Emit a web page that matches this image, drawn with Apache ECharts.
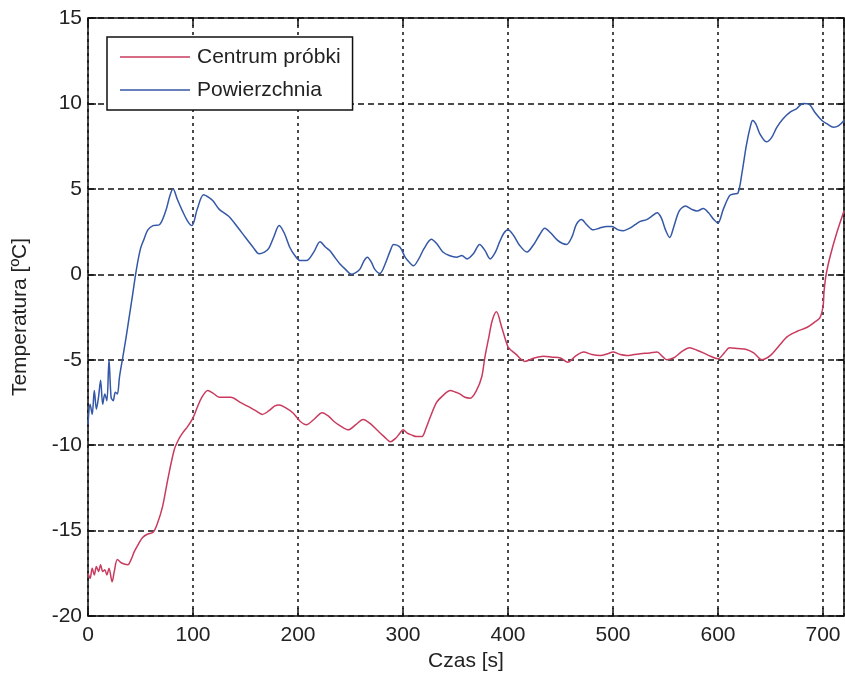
<!DOCTYPE html>
<html>
<head>
<meta charset="utf-8">
<script src="https://cdn.jsdelivr.net/npm/echarts@6/dist/echarts.min.js"></script>
<style>
  body { margin: 0; background: #fff; }
  #chart { width: 845px; height: 684px; }
</style>
</head>
<body>
<div id="chart"></div>
<script>
// czas [s] i temperatura [ºC]
var seriesNames = ['Centrum próbki', 'Powierzchnia'];

var timeRed = [0, 2, 4, 6, 8, 10, 12, 14, 16, 18, 20, 23, 25, 28, 32, 38, 41, 44, 48, 52, 57, 62, 66, 71, 76, 82, 86, 90, 95, 100,
  104, 108, 114, 119, 125, 136, 145, 153, 160, 166, 172, 178, 182, 188, 195, 202, 208, 215, 223, 229, 234, 241, 248, 255, 262,
  268, 275, 282, 288, 293, 297, 300, 304, 308, 313, 318, 322, 326, 332, 338, 345, 350, 354, 359, 364, 370, 375, 378, 382, 385,
  389, 394, 400, 404, 408, 412, 416, 425, 434, 442, 450, 457, 464, 472, 480, 488, 495, 500, 507, 513, 520, 526, 535, 542, 547,
  551, 555, 559, 566, 573, 580, 586, 593, 600, 606, 611, 619, 627, 634, 642, 650, 658, 666, 675, 685, 692, 697, 700, 701, 703,
  707, 713, 720];
var tempRed = [-17.5, -17.8, -17.2, -17.6, -17.1, -17.4, -17.0, -17.4, -17.3, -17.6, -17.2, -18.0, -17.4, -16.7, -16.9, -17.0,
  -16.7, -16.25, -15.8, -15.4, -15.2, -15.1, -14.6, -13.6, -12.0, -10.3, -9.7, -9.3, -8.9, -8.4,
  -7.8, -7.25, -6.8, -6.95, -7.2, -7.2, -7.5, -7.75, -8.0, -8.2, -8.0, -7.7, -7.65, -7.8, -8.1, -8.6, -8.8, -8.5, -8.1, -8.3,
  -8.6, -8.9, -9.1, -8.8, -8.5, -8.7, -9.1, -9.5, -9.8, -9.6, -9.3, -9.1, -9.3, -9.4, -9.5, -9.5, -9.0, -8.35, -7.5, -7.1,
  -6.8, -6.9, -7.0, -7.2, -7.25, -6.8, -6.0, -4.85, -3.6, -2.7, -2.2, -3.1, -4.25, -4.5, -4.7, -4.95, -5.1, -4.9, -4.8, -4.85,
  -4.9, -5.15, -4.8, -4.55, -4.7, -4.75, -4.65, -4.55, -4.7, -4.75, -4.7, -4.65, -4.6, -4.55, -4.8, -5.0, -4.95, -4.85, -4.5,
  -4.3, -4.45, -4.6, -4.8, -4.95, -4.6, -4.3, -4.35, -4.4, -4.6, -5.0, -4.75, -4.2, -3.65, -3.35, -3.1, -2.8, -2.55, -1.9,
  -1.0, 0.0, 1.1, 2.4, 3.7];

var timeBlue = [0, 2, 4, 6, 8, 10, 12, 14, 16, 18, 20, 22, 24, 26, 28, 30, 33, 36, 39, 42, 46, 50, 53, 57, 62, 68, 74, 78, 81,
  85, 90, 95, 99, 104, 110, 115, 119, 125, 134, 142, 150, 157, 163, 168, 172, 177, 182, 187, 192, 197, 202, 208, 215, 221, 226,
  230, 235, 240, 245, 251, 255, 259, 263, 266, 270, 273, 278, 283, 288, 291, 297, 302, 306, 310, 315, 320, 327, 332, 338, 344,
  351, 356, 361, 367, 373, 378, 383, 388, 392, 396, 400, 405, 411, 418, 424, 430, 435, 441, 447, 452, 456, 461, 465, 470, 475,
  481, 487, 494, 499, 505, 510, 516, 521, 526, 532, 537, 542, 546, 550, 554, 558, 563, 569, 575, 580, 586, 591, 596, 600, 605,
  611, 615, 619, 623, 627, 631, 633, 636, 640, 646, 651, 656, 662, 669, 675, 681, 687, 692, 699, 704, 710, 715, 720];
var tempBlue = [-8.8, -7.6, -8.2, -6.8, -7.9, -7.2, -6.2, -7.6, -7.0, -7.4, -5.0, -7.2, -7.4, -6.9, -7.0, -6.0, -4.9, -3.8,
  -2.6, -1.4, 0.25, 1.5, 2.0, 2.6, 2.85, 2.9, 3.7, 4.6, 5.0, 4.4, 3.7, 3.1, 2.85, 3.8, 4.65, 4.5, 4.3, 3.8, 3.4, 2.8, 2.15,
  1.6, 1.2, 1.3, 1.5, 2.2, 2.85, 2.4, 1.6, 1.1, 0.8, 0.8, 1.3, 1.9, 1.6, 1.4, 1.0, 0.6, 0.3, 0.0, 0.1, 0.3, 0.8, 1.0, 0.7,
  0.3, 0.05, 0.6, 1.4, 1.75, 1.6, 1.0, 0.7, 0.5, 0.9, 1.5, 2.05, 1.8, 1.3, 1.1, 1.0, 1.1, 0.9, 1.2, 1.75, 1.4, 0.9, 1.3,
  1.9, 2.4, 2.6, 2.3, 1.7, 1.3, 1.7, 2.3, 2.7, 2.4, 2.0, 1.8, 1.75, 2.2, 2.9, 3.2, 2.9, 2.6, 2.7, 2.8, 2.8, 2.6, 2.55, 2.7,
  2.9, 3.1, 3.2, 3.4, 3.6, 3.3, 2.6, 2.15, 2.8, 3.7, 4.0, 3.8, 3.7, 3.85, 3.6, 3.2, 3.0, 3.8, 4.6, 4.7, 4.75, 6.0, 7.55,
  8.7, 9.0, 8.8, 8.2, 7.75, 8.0, 8.6, 9.1, 9.5, 9.7, 10.0, 9.95, 9.5, 9.0, 8.8, 8.6, 8.7, 9.0];

function pairs(xs, ys) {
    return xs.map(function (x, i) { return [x, ys[i]]; });
}

var font = '"Liberation Sans", Arial, sans-serif';
var chart = echarts.init(document.getElementById('chart'));

chart.setOption({
    backgroundColor: '#fff',
    animation: false,
    grid: { left: 88, right: 1, top: 18, bottom: 68 },
    legend: {
        orient: 'vertical',
        left: 107,
        top: 37,
        padding: [9, 12, 9, 13],
        itemGap: 11,
        icon: 'rect',
        itemWidth: 70,
        itemHeight: 1.5,
        backgroundColor: '#fff',
        borderColor: '#111',
        borderWidth: 1.5,
        borderRadius: 0,
        textStyle: { fontFamily: font, fontSize: 21, color: '#222', lineHeight: 22, padding: [0, 0, 0, 2] },
        data: seriesNames
    },
    xAxis: [
        {
            type: 'value',
            min: 0,
            max: 720,
            interval: 100,
            name: 'Czas [s]',
            nameLocation: 'middle',
            nameGap: 35,
            nameTextStyle: { fontFamily: font, fontSize: 21, color: '#222' },
            axisLine: { onZero: false, lineStyle: { color: '#111', width: 1.5 } },
            axisTick: { inside: true, length: 8, lineStyle: { color: '#111', width: 1.5 } },
            axisLabel: { fontFamily: font, fontSize: 21, color: '#222', margin: 9, showMaxLabel: false },
            splitLine: { show: true, lineStyle: { color: '#111', width: 1.5, type: [3, 4] } }
        },
        {
            type: 'value',
            position: 'top',
            min: 0,
            max: 720,
            interval: 100,
            axisLine: { show: true, onZero: false, lineStyle: { color: '#111', width: 1.5 } },
            axisTick: { show: true, inside: true, length: 8, lineStyle: { color: '#111', width: 1.5 } },
            axisLabel: { show: false },
            splitLine: { show: false }
        }
    ],
    yAxis: [
        {
            type: 'value',
            min: -20,
            max: 15,
            interval: 5,
            name: 'Temperatura [ºC]',
            nameLocation: 'middle',
            nameGap: 57,
            nameTextStyle: { fontFamily: font, fontSize: 21, color: '#222' },
            axisLine: { show: true, onZero: false, lineStyle: { color: '#111', width: 1.5 } },
            axisTick: { show: true, inside: true, length: 8, lineStyle: { color: '#111', width: 1.5 } },
            axisLabel: { fontFamily: font, fontSize: 21, color: '#222', margin: 6 },
            splitLine: { show: true, lineStyle: { color: '#111', width: 1.5, type: [6, 4] } }
        },
        {
            type: 'value',
            position: 'right',
            min: -20,
            max: 15,
            interval: 5,
            axisLine: { show: true, onZero: false, lineStyle: { color: '#111', width: 1.5 } },
            axisTick: { show: true, inside: true, length: 8, lineStyle: { color: '#111', width: 1.5 } },
            axisLabel: { show: false },
            splitLine: { show: false }
        }
    ],
    series: [
        {
            name: seriesNames[0],
            type: 'line',
            symbol: 'none',
            smooth: 0.3,
            color: '#c93b5e',
            lineStyle: { width: 1.5, color: '#c93b5e' },
            data: pairs(timeRed, tempRed)
        },
        {
            name: seriesNames[1],
            type: 'line',
            symbol: 'none',
            smooth: 0.3,
            color: '#3457a6',
            lineStyle: { width: 1.5, color: '#3457a6' },
            data: pairs(timeBlue, tempBlue)
        }
    ]
});
</script>
</body>
</html>
